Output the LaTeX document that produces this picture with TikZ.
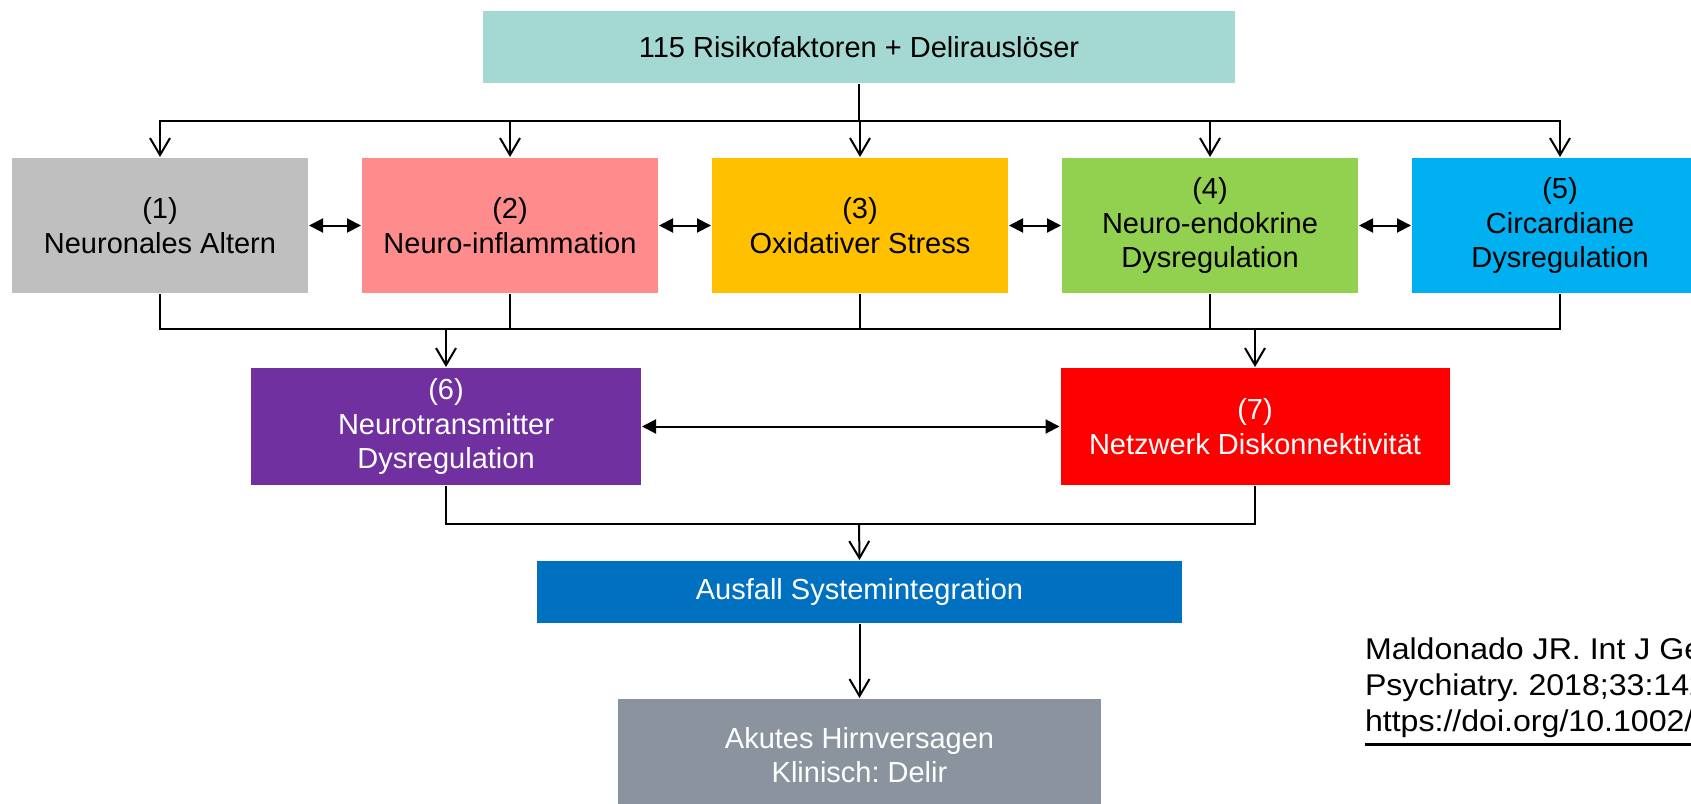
\documentclass[tikz,border=0pt]{standalone}
\usepackage{fontspec}
\setmainfont{Liberation Sans}
\newfontfamily\reffont[FakeStretch=1.07]{Liberation Sans}
\usetikzlibrary{arrows.meta}
\frenchspacing
\definecolor{topteal}{HTML}{A4D8D2}
\definecolor{agegray}{HTML}{BFBFBF}
\definecolor{inflpink}{HTML}{FF8C8C}
\definecolor{oxyellow}{HTML}{FFC000}
\definecolor{endogreen}{HTML}{92D050}
\definecolor{circblue}{HTML}{00B0F0}
\definecolor{transpurple}{HTML}{7030A0}
\definecolor{netred}{HTML}{FF0000}
\definecolor{sysblue}{HTML}{0070C0}
\definecolor{failgray}{HTML}{8B949E}
\newcommand{\doiline}[1]{\setbox0\hbox{#1}\rlap{\rule[-7pt]{\wd0}{1.5pt}}\box0}
\begin{document}
\begin{tikzpicture}[x=0.5pt, y=-0.5pt, line width=1pt,
  box/.style={inner sep=0pt, align=center, minimum width=296*0.5pt, minimum height=135*0.5pt,
    font=\fontsize{14.5pt}{17.3pt}\selectfont},
  down/.style={-{Straight Barb[length=8.5pt, width=10pt]}},
  both/.style={{Triangle[length=7pt, width=7pt]}-{Triangle[length=7pt, width=7pt]}}]
  \useasboundingbox (0,0) rectangle (1691,803);
  \clip (0,0) rectangle (1691,803);

  \node[box, fill=topteal, minimum width=752*0.5pt, minimum height=72*0.5pt] (top) at (859,47) {115 Risikofaktoren + Delirausl\"oser};

  \node[box, fill=agegray] (b1) at (160,225.5) {(1)\\Neuronales Altern};
  \node[box, fill=inflpink] (b2) at (510,225.5) {(2)\\Neuro-inflammation};
  \node[box, fill=oxyellow] (b3) at (860,225.5) {(3)\\Oxidativer Stress};
  \node[box, fill=endogreen] (b4) at (1210,225.5) {(4)\\Neuro-endokrine\\Dysregulation};
  \node[box, fill=circblue] (b5) at (1560,225.5) {(5)\\Circardiane\\Dysregulation};

  \node[box, fill=transpurple, text=white, minimum width=390*0.5pt, minimum height=117*0.5pt] (b6) at (446,426.5) {(6)\\Neurotransmitter\\Dysregulation};
  \node[box, fill=netred, text=white, minimum width=389*0.5pt, minimum height=117*0.5pt] (b7) at (1255,426.5) {(7)\\Netzwerk Diskonnektivit\"at};

  \node[box, fill=sysblue, text=white, minimum width=645*0.5pt, minimum height=62*0.5pt] (sys) at (859.5,592) {Ausfall Systemintegration};
  \node[box, fill=failgray, text=white, minimum width=483*0.5pt, minimum height=112*0.5pt] (fail) at (859.5,755) {Akutes Hirnversagen\\Klinisch: Delir};

  \node[inner sep=0pt, anchor=north west, align=left, font=\reffont\fontsize{15pt}{18pt}\selectfont] (ref) at (1364,637)
    {Maldonado JR. Int J Geriatr\\Psychiatry. 2018;33:1428--1457.\\\doiline{https://doi.org/10.1002/gps.4823}};

  \coordinate (split) at (859,121);
  \coordinate (merge) at (859,329);
  \coordinate (join) at (859,524);

  \draw (top.south) -- (split);
  \foreach \b in {b1,b2,b3,b4,b5} {
    \draw[down] (split) -| (\b.north);
    \draw (\b.south) |- (merge);
  }
  \draw[down] (merge) -| (b6.north);
  \draw[down] (merge) -| (b7.north);

  \draw[both] (b1.east) -- (b2.west);
  \draw[both] (b2.east) -- (b3.west);
  \draw[both] (b3.east) -- (b4.west);
  \draw[both] (b4.east) -- (b5.west);
  \draw[both] (b6.east) -- (b7.west);

  \draw (b6.south) |- (join);
  \draw (b7.south) |- (join);
  \draw[down] (join) -- (sys.north);
  \draw[down] (sys.south) -- (fail.north);
\end{tikzpicture}
\end{document}
